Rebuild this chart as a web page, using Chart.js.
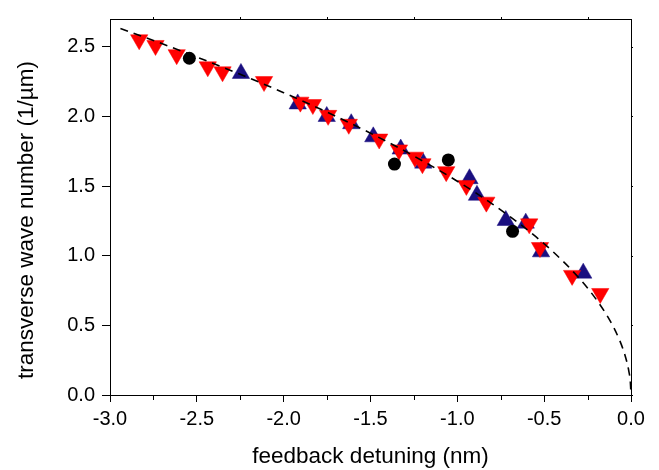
<!DOCTYPE html>
<html>
<head>
<meta charset="utf-8">
<script src="https://cdn.jsdelivr.net/npm/chart.js@4/dist/chart.umd.min.js"></script>
<style>
  html, body { margin: 0; padding: 0; background: #fff; }
  #wrap { width: 659px; height: 470px; }
</style>
</head>
<body>
<div id="wrap"><canvas id="c" width="659" height="470"></canvas></div>
<script>
// Red down-triangles
const redX = [-2.832, -2.738, -2.616, -2.437, -2.352, -2.113, -1.904, -1.832, -1.744, -1.625, -1.450, -1.336, -1.244, -1.201, -1.064, -0.948, -0.833, -0.586, -0.524, -0.339, -0.177];
const redY = [2.551, 2.510, 2.444, 2.357, 2.321, 2.251, 2.103, 2.086, 2.008, 1.944, 1.838, 1.760, 1.708, 1.661, 1.604, 1.505, 1.385, 1.229, 1.059, 0.859, 0.729];
// Blue up-triangles
const blueX = [-2.246, -1.919, -1.752, -1.611, -1.484, -1.326, -1.196, -0.930, -0.887, -0.721, -0.606, -0.518, -0.275];
const blueY = [2.309, 2.090, 2.000, 1.948, 1.854, 1.766, 1.665, 1.553, 1.434, 1.253, 1.234, 1.028, 0.875];
// Black circles
const blackX = [-2.543, -1.362, -1.052, -0.682];
const blackY = [2.418, 1.658, 1.688, 1.175];
// Dashed fit curve
const fitX = [-2.94, -2.75, -2.5, -2.25, -2.0, -1.75, -1.5, -1.25, -1.0, -0.8, -0.6, -0.45, -0.3, -0.2, -0.12, -0.06, -0.03, -0.012, -0.004, 0];
const fitY = [2.632, 2.546, 2.427, 2.303, 2.171, 2.031, 1.880, 1.716, 1.535, 1.373, 1.189, 1.030, 0.841, 0.686, 0.532, 0.376, 0.266, 0.168, 0.097, 0];
// Axis ticks
const xTicks = [-3.0, -2.5, -2.0, -1.5, -1.0, -0.5, 0.0];
const xMinorTicks = [-2.75, -2.25, -1.75, -1.25, -0.75, -0.25];
const yTicks = [0.0, 0.5, 1.0, 1.5, 2.0, 2.5];
const xTitle = 'feedback detuning (nm)';
const yTitle = 'transverse wave number (1/µm)';

const pts = (xs, ys) => xs.map((x, i) => ({x: x, y: ys[i]}));
const FONT = 'Liberation Sans';

const framePlugin = {
  id: 'frame',
  afterDraw(chart) {
    const {ctx, chartArea: a, scales} = chart;
    ctx.save();
    ctx.strokeStyle = '#000';
    ctx.lineWidth = 1;
    ctx.strokeRect(Math.round(a.left) + 0.5, Math.round(a.top) + 0.5, Math.round(a.right - a.left), Math.round(a.bottom - a.top));
    ctx.beginPath();
    xMinorTicks.forEach(v => {
      const px = Math.round(scales.x.getPixelForValue(v)) + 0.5;
      ctx.moveTo(px, a.bottom); ctx.lineTo(px, a.bottom + 5);
      ctx.moveTo(px, a.top); ctx.lineTo(px, a.top - 2);
    });
    yTicks.forEach(v => {
      const py = Math.round(scales.y.getPixelForValue(v)) + 0.5;
      ctx.moveTo(a.right, py); ctx.lineTo(a.right + 2, py);
    });
    ctx.stroke();
    // y-axis title
    ctx.fillStyle = '#000';
    ctx.font = '22.5px "' + FONT + '"';
    ctx.textAlign = 'center';
    ctx.textBaseline = 'middle';
    ctx.translate(27, (a.top + a.bottom) / 2 + 13);
    ctx.rotate(-Math.PI / 2);
    ctx.fillText(yTitle, 0, 0);
    ctx.restore();
  }
};

new Chart(document.getElementById('c'), {
  type: 'scatter',
  data: {
    datasets: [
      {
        type: 'line', data: pts(fitX, fitY), borderColor: '#000', borderWidth: 1.6,
        borderDash: [8, 6], pointRadius: 0, fill: false, cubicInterpolationMode: 'monotone'
      },
      {
        data: pts(blackX, blackY), pointStyle: 'circle', pointRadius: 6.5,
        backgroundColor: '#000', borderColor: '#000', borderWidth: 0
      },
      {
        data: pts(redX, redY), pointStyle: 'triangle', rotation: 180, pointRadius: 10,
        backgroundColor: '#ff0000', borderColor: '#ff0000', borderWidth: 0.5
      },
      {
        data: pts(blueX, blueY), pointStyle: 'triangle', pointRadius: 10,
        backgroundColor: '#1a0f80', borderColor: '#1a0f80', borderWidth: 0.5
      }
    ]
  },
  options: {
    responsive: false,
    animation: false,
    devicePixelRatio: 1,
    layout: { padding: { left: 0, top: 13, right: 28, bottom: 0 } },
    plugins: { legend: { display: false }, tooltip: { enabled: false } },
    scales: {
      x: {
        type: 'linear', min: -3, max: 0,
        afterBuildTicks: s => { s.ticks = xTicks.map(v => ({value: v})); },
        afterFit: s => { s.height = 75; },
        ticks: {
          color: '#000', padding: 5, maxRotation: 0,
          font: { family: FONT, size: 20 },
          callback: v => Number(v).toFixed(1)
        },
        grid: { drawOnChartArea: false, tickLength: 7, color: '#000', tickWidth: 1 },
        border: { display: true, color: '#000', width: 1 },
        title: {
          display: true, text: xTitle, color: '#000',
          font: { family: FONT, size: 22.5 }, padding: { top: 0, bottom: 0 }
        }
      },
      y: {
        type: 'linear', min: 0, max: 2.7,
        afterBuildTicks: s => { s.ticks = yTicks.map(v => ({value: v})); },
        afterFit: s => { s.width = 110; },
        ticks: {
          color: '#000', padding: 7,
          font: { family: FONT, size: 20 },
          callback: v => Number(v).toFixed(1)
        },
        grid: { drawOnChartArea: false, tickLength: 8, color: '#000', tickWidth: 1 },
        border: { display: true, color: '#000', width: 1 },
        title: { display: false }
      }
    }
  },
  plugins: [framePlugin]
});
</script>
</body>
</html>
